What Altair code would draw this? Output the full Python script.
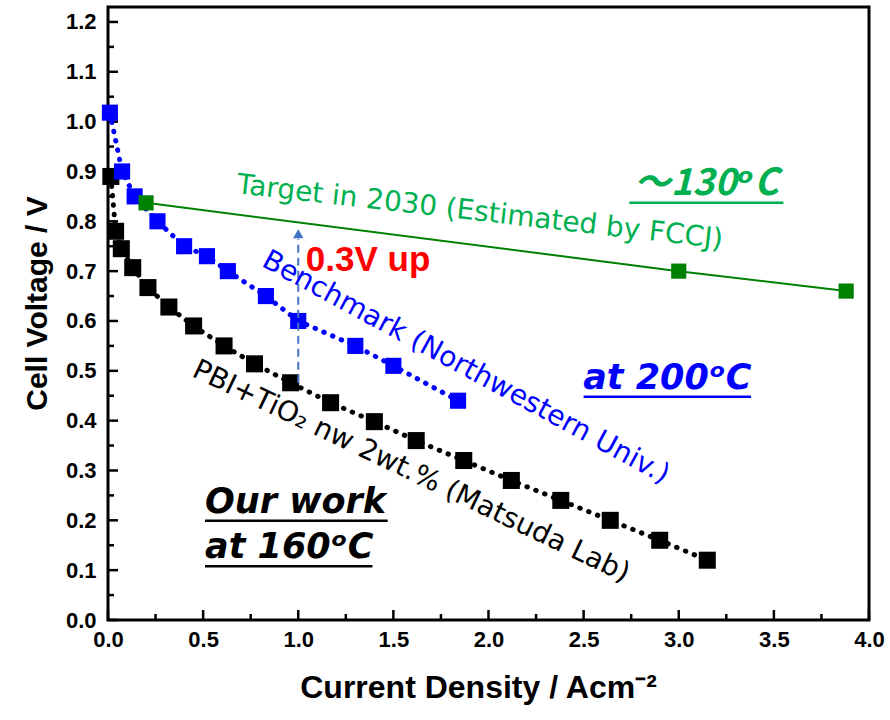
import altair as alt
import pandas as pd

# ---- data ----
black_x = [0.015, 0.04, 0.07, 0.13, 0.21, 0.32, 0.45, 0.61, 0.77, 0.96, 1.17, 1.40, 1.62, 1.87, 2.12, 2.38, 2.64, 2.90, 3.15]
black_y = [0.89, 0.78, 0.745, 0.707, 0.667, 0.628, 0.59, 0.55, 0.514, 0.476, 0.436, 0.398, 0.36, 0.32, 0.28, 0.24, 0.20, 0.16, 0.12]

blue_x = [0.01, 0.074, 0.14, 0.26, 0.40, 0.52, 0.63, 0.83, 1.00, 1.30, 1.50, 1.84]
blue_y = [1.018, 0.90, 0.85, 0.80, 0.75, 0.73, 0.70, 0.65, 0.60, 0.55, 0.51, 0.44]

green_x = [0.20, 3.00, 3.88]
green_y = [0.837, 0.70, 0.66]

x_major = [0.0, 0.5, 1.0, 1.5, 2.0, 2.5, 3.0, 3.5, 4.0]
x_minor = [0.25, 0.75, 1.25, 1.75, 2.25, 2.75, 3.25, 3.75]
y_major = [0.0, 0.1, 0.2, 0.3, 0.4, 0.5, 0.6, 0.7, 0.8, 0.9, 1.0, 1.1, 1.2]
y_minor = [0.05, 0.15, 0.25, 0.35, 0.45, 0.55, 0.65, 0.75, 0.85, 0.95, 1.05, 1.15]

arrow_x = [1.0, 1.0]
arrow_y = [0.476, 0.765]
arrow_tip_y = [0.775]

W, H = 761, 613
FONT = "Liberation Sans, Arial, sans-serif"
TFONT = "DejaVu Sans, Verdana, sans-serif"
CJK = "Noto Sans CJK JP, DejaVu Sans, sans-serif"

xs = alt.Scale(domain=[0, 4.0], nice=False, zero=False)
ys = alt.Scale(domain=[0, 1.23], nice=False, zero=False)

black = pd.DataFrame({"x": black_x, "y": black_y})
blue = pd.DataFrame({"x": blue_x, "y": blue_y})
green = pd.DataFrame({"x": green_x, "y": green_y})

X = alt.X("x:Q", scale=xs, title="Current Density / Acm⁻²",
          axis=alt.Axis(values=x_major, format=".1f", labelFlush=False, titleX=370))
Y = alt.Y("y:Q", scale=ys, title="Cell Voltage / V",
          axis=alt.Axis(values=y_major, format=".1f", labelFlush=False, titleY=296))

def dotted(df, color):
    return alt.Chart(df).mark_line(color=color, strokeWidth=5, strokeDash=[0.5, 9],
                                   strokeCap="round").encode(x=X, y=Y)

def squares(df, color, size):
    return alt.Chart(df).mark_square(color=color, size=size, opacity=1, filled=True).encode(
        x=alt.X("x:Q", scale=xs), y=alt.Y("y:Q", scale=ys))

black_line = dotted(black, "black")
black_pts = squares(black, "black", 290)
blue_line = dotted(blue, "#0000FF")
blue_pts = squares(blue, "#0000FF", 260)
green_line = alt.Chart(green).mark_line(color="#008000", strokeWidth=2).encode(
    x=alt.X("x:Q", scale=xs), y=alt.Y("y:Q", scale=ys))
green_pts = squares(green, "#008000", 230)

arrow_df = pd.DataFrame({"x": arrow_x, "y": arrow_y})
arrow_line = alt.Chart(arrow_df).mark_line(color="#4472C4", strokeWidth=2, strokeDash=[8, 5]).encode(
    x=alt.X("x:Q", scale=xs), y=alt.Y("y:Q", scale=ys))
arrow_head = alt.Chart(pd.DataFrame({"x": [1.0], "y": arrow_tip_y})).mark_point(
    shape="triangle-up", filled=True, color="#4472C4", size=110, opacity=1).encode(
    x=alt.X("x:Q", scale=xs), y=alt.Y("y:Q", scale=ys))

# ticks (inward) drawn as rules
def yticks(vals, length):
    return alt.Chart(pd.DataFrame({"y": vals})).mark_rule(color="black", strokeWidth=2.5).encode(
        y=alt.Y("y:Q", scale=ys), x=alt.value(0), x2=alt.value(length))

def xticks(vals, length):
    return alt.Chart(pd.DataFrame({"x": vals})).mark_rule(color="black", strokeWidth=2.5).encode(
        x=alt.X("x:Q", scale=xs), y=alt.value(H), y2=alt.value(H - length))

ticks = yticks(y_major, 10) + yticks(y_minor, 6) + xticks(x_major, 10) + xticks(x_minor, 6)

def label(text, x, y, color, size, angle=0, weight="normal", style="normal", align="center",
          baseline="middle", font=TFONT):
    return alt.Chart(pd.DataFrame({"x": [x], "y": [y], "t": [text]})).mark_text(
        color=color, fontSize=size, angle=angle, fontWeight=weight, fontStyle=style,
        align=align, baseline=baseline, font=font).encode(
        x=alt.X("x:Q", scale=xs), y=alt.Y("y:Q", scale=ys), text="t:N")

def underline(x1, x2, y, color):
    return alt.Chart(pd.DataFrame({"x": [x1], "x2": [x2], "y": [y]})).mark_rule(
        color=color, strokeWidth=2.5).encode(
        x=alt.X("x:Q", scale=xs), x2="x2:Q", y=alt.Y("y:Q", scale=ys))

texts = (
    label("Target in 2030 (Estimated by FCCJ)", 1.955, 0.817, "#00B050", 28, angle=6.5)
    + label("～130ᵒC", 3.144, 0.853, "#00B050", 37, weight="bold", style="italic",
            baseline="alphabetic", font=CJK)
    + underline(2.74, 3.55, 0.837, "#00B050")
    + label("0.3V up", 1.367, 0.723, "#FF0000", 35, weight="bold", font=FONT)
    + label("Benchmark (Northwestern Univ.)", 1.88, 0.506, "#0000FF", 28, angle=28.5)
    + label("at 200ᵒC", 2.94, 0.464, "#0000FF", 35, weight="bold", style="italic", baseline="alphabetic")
    + underline(2.50, 3.38, 0.448, "#0000FF")
    + label("PBI+TiO₂ nw 2wt.% (Matsuda Lab)", 1.593, 0.297, "black", 28, angle=25.5)
    + label("Our work", 0.51, 0.215, "black", 35, weight="bold", style="italic", align="left", baseline="alphabetic")
    + underline(0.51, 1.47, 0.199, "black")
    + label("at 160ᵒC", 0.51, 0.125, "black", 35, weight="bold", style="italic", align="left", baseline="alphabetic")
    + underline(0.51, 1.39, 0.108, "black")
)

chart = alt.layer(
    ticks, black_line, black_pts, blue_line, blue_pts, green_line, green_pts,
    arrow_line, arrow_head, texts
).properties(
    width=W, height=H,
    autosize=alt.AutoSizeParams(type="none"),
    padding={"left": 108, "top": 7, "right": 21, "bottom": 100},
).configure_view(
    stroke="black", strokeWidth=3
).configure_axis(
    grid=False, ticks=False, domain=False,
    labelFont=FONT, labelFontSize=22, labelFontWeight="bold", labelColor="black",
    titleFont=FONT, titleFontSize=30, titleFontWeight="bold", titleColor="black",
).configure_axisY(
    labelPadding=12, titlePadding=13
).configure_axisX(
    labelPadding=9, titlePadding=22, titleFontSize=32
)

chart.save("out.html", embed_options={"renderer": "svg", "actions": False})
